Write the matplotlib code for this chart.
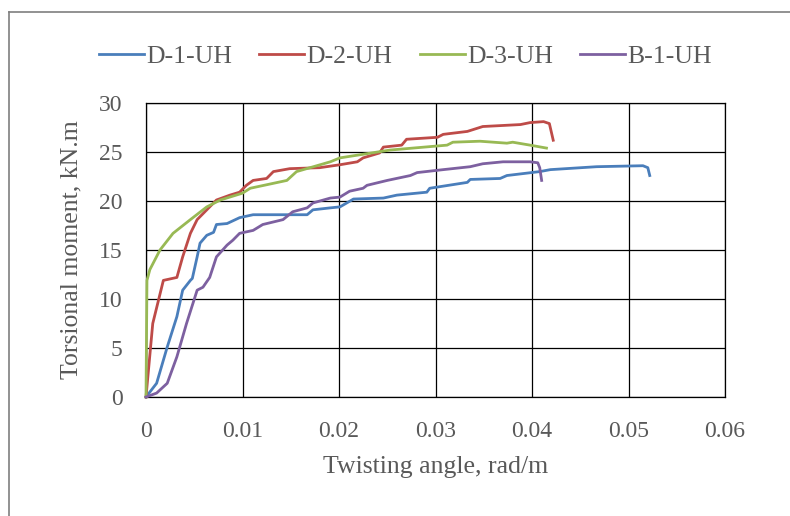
import matplotlib
matplotlib.use("Agg")
import matplotlib.pyplot as plt
from matplotlib.lines import Line2D

# Curvas momento torsor - ángulo de giro
d1_x = [0, 0.0011, 0.0022, 0.0032, 0.0038, 0.0046, 0.0048, 0.0053, 0.0056, 0.0063, 0.0070,
        0.0073, 0.0084, 0.0097, 0.0111, 0.0142, 0.0167, 0.0173, 0.0191, 0.0201, 0.0215,
        0.0246, 0.0260, 0.0291, 0.0294, 0.0333, 0.0336, 0.0367, 0.0374, 0.0408, 0.0419,
        0.0467, 0.0515, 0.0520, 0.0522]
d1_y = [0, 1.4, 5.1, 8.2, 10.9, 11.9, 12.1, 14.3, 15.7, 16.5, 16.8,
        17.6, 17.7, 18.3, 18.6, 18.6, 18.6, 19.1, 19.3, 19.4, 20.2,
        20.3, 20.6, 20.9, 21.3, 21.9, 22.2, 22.3, 22.6, 23.0, 23.2,
        23.5, 23.6, 23.4, 22.6]

d2_x = [0, 0.0007, 0.0018, 0.0032, 0.0038, 0.0046, 0.0053, 0.0063, 0.0073, 0.0087, 0.0097,
        0.0104, 0.0111, 0.0125, 0.0132, 0.0149, 0.0180, 0.0201, 0.0219, 0.0225, 0.0242,
        0.0246, 0.0265, 0.0270, 0.0302, 0.0308, 0.0333, 0.0349, 0.0388, 0.0398, 0.0412,
        0.0418, 0.0422]
d2_y = [0, 7.5, 11.9, 12.2, 14.3, 16.7, 18.1, 19.1, 20.1, 20.6, 20.9,
        21.6, 22.1, 22.3, 23.0, 23.3, 23.4, 23.7, 24.0, 24.4, 24.9,
        25.5, 25.7, 26.3, 26.5, 26.8, 27.1, 27.6, 27.8, 28.0, 28.1,
        27.9, 26.2]

d3_x = [0, 0.0001, 0.0004, 0.00145, 0.0028, 0.0046, 0.0063, 0.0077, 0.0100, 0.0108, 0.0146,
        0.0156, 0.0191, 0.0201, 0.0253, 0.0312, 0.0318, 0.0346, 0.0374, 0.0380, 0.0398,
        0.0415]
d3_y = [0, 11.9, 13.0, 15.0, 16.7, 18.1, 19.4, 20.1, 20.8, 21.3, 22.1,
        23.0, 24.0, 24.4, 25.2, 25.7, 26.0, 26.1, 25.9, 26.0, 25.7,
        25.4]

b1_x = [0, 0.0011, 0.0022, 0.0032, 0.0042, 0.0053, 0.0059, 0.0066, 0.0073, 0.0084, 0.0090,
        0.0097, 0.0111, 0.0121, 0.0142, 0.0152, 0.0167, 0.0173, 0.0191, 0.0201, 0.0211,
        0.0225, 0.0229, 0.0250, 0.0274, 0.0281, 0.0308, 0.0336, 0.0349, 0.0370, 0.0398,
        0.0406, 0.0408, 0.0410]
b1_y = [0, 0.4, 1.4, 4.1, 7.5, 10.9, 11.2, 12.2, 14.3, 15.5, 16.0,
        16.7, 17.0, 17.6, 18.1, 18.9, 19.3, 19.8, 20.3, 20.4, 21.0,
        21.3, 21.6, 22.1, 22.6, 22.9, 23.2, 23.5, 23.8, 24.0, 24.0,
        23.9, 23.4, 22.1]

series = [
    ("D-1-UH", d1_x, d1_y, "#4A7EBB"),
    ("D-2-UH", d2_x, d2_y, "#BE4B48"),
    ("D-3-UH", d3_x, d3_y, "#98B954"),
    ("B-1-UH", b1_x, b1_y, "#7D60A0"),
]

x_ticks = [0, 0.01, 0.02, 0.03, 0.04, 0.05, 0.06]
x_labels = ["0", "0.01", "0.02", "0.03", "0.04", "0.05", "0.06"]
y_ticks = [0, 5, 10, 15, 20, 25, 30]

plt.rcParams['font.family'] = ['Liberation Serif', 'DejaVu Serif']
gris = "#595959"

fig = plt.figure(figsize=(7.9, 5.16), dpi=100)
ax = fig.add_axes([146 / 790, 1 - 397 / 516, 579 / 790, 294 / 516])

for nombre, xs, ys, color in series:
    ax.plot(xs, ys, color=color, lw=2.0, label=nombre, clip_on=False, zorder=3)

ax.set_xlim(0, 0.06)
ax.set_ylim(0, 30)
ax.set_xticks(x_ticks)
ax.set_xticklabels(x_labels)
ax.set_yticks(y_ticks)
ax.grid(True, color="black", lw=0.9)
ax.set_axisbelow(True)
for s in ax.spines.values():
    s.set_color("black")
    s.set_linewidth(0.9)
ax.tick_params(axis="both", length=0, labelsize=17, labelcolor=gris)
ax.tick_params(axis="x", pad=17)
ax.tick_params(axis="y", pad=17)

ax.set_xlabel("Twisting angle, rad/m", fontsize=18.5, color=gris)
ax.set_ylabel("Torsional moment, kN.m", fontsize=18.5, color=gris)
ax.xaxis.set_label_coords(0.5, -0.2)
ax.yaxis.set_label_coords(-0.11, 0.5)

fig.legend(loc="center left", bbox_to_anchor=(86 / 790, 1 - 57 / 516), ncol=4,
           frameon=False, fontsize=18.5, labelcolor=gris, handlelength=1.75,
           handletextpad=0.1, columnspacing=1.05, borderpad=0)

# Marco exterior del gráfico (recortado)
fig.add_artist(Line2D([9 / 790, 9 / 790], [0, 1 - 12 / 516], color="#7f7f7f", lw=1.2,
                      transform=fig.transFigure))
fig.add_artist(Line2D([9 / 790, 1], [1 - 12 / 516, 1 - 12 / 516], color="#7f7f7f", lw=1.2,
                      transform=fig.transFigure))

fig.savefig("out.png", dpi=100)
